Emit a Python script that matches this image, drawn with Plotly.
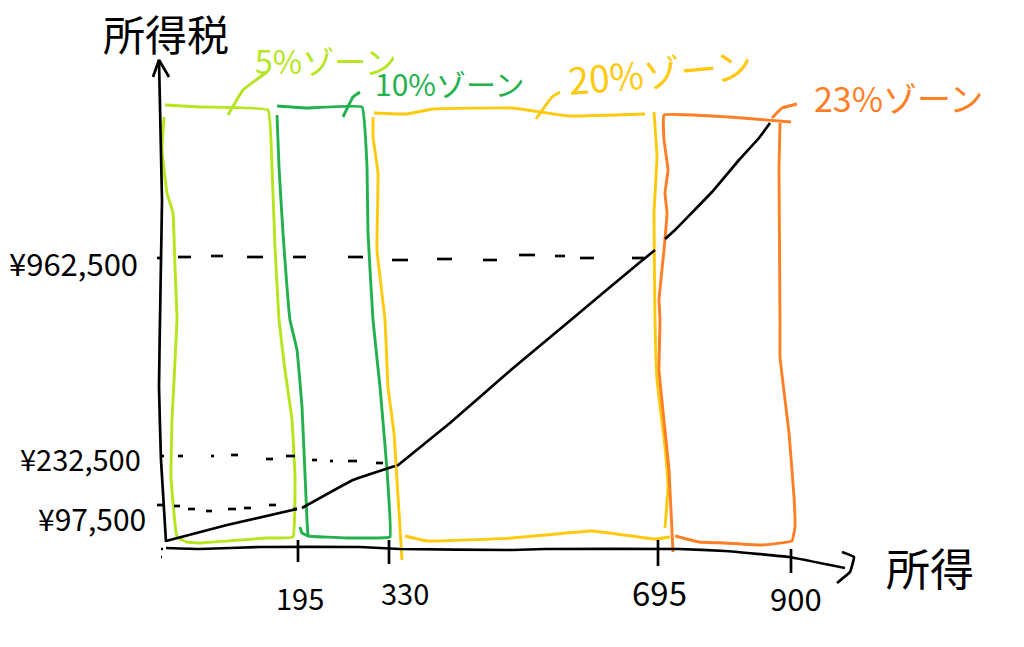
import plotly.graph_objects as go

BLACK = "#000000"
LIME = "#B5E61D"
GREEN = "#22B14C"
YELLOW = "#FFC90E"
ORANGE = "#FF7F27"
FONT = "Noto Sans CJK JP"

# Hand-drawn strokes (horizontal reading, vertical reading)
y_axis_x = [159, 162, 161, 160, 159, 161, 166]
y_axis_y = [60, 200, 260, 320, 387, 460, 542]
y_head_x = [153, 159, 169]
y_head_y = [77, 60, 77]
x_axis_x = [166, 200, 260, 360, 400, 512, 545, 679, 725, 789, 845]
x_axis_y = [548, 549, 547, 547, 549, 550, 549, 549, 551, 557, 568]
x_head_x = [842, 854, 850, 837]
x_head_y = [552, 557, 572, 583]

tax_1_x = [166, 227, 297]
tax_1_y = [541, 525, 509]
tax_2_x = [302, 353, 395]
tax_2_y = [508, 480, 466]
tax_3_x = [397, 450, 512, 572, 639, 655]
tax_3_y = [466, 423, 369, 319, 263, 250]
tax_4_x = [665, 675, 712, 739, 759, 770]
tax_4_y = [239, 230, 192, 160, 138, 123]

lime_x = [165, 200, 268, 272, 275, 279, 285, 292, 295, 293, 267, 200, 187, 177, 171, 172, 177, 175, 173, 167, 162, 164]
lime_y = [105, 107, 110, 167, 247, 320, 370, 420, 477, 537, 538, 543, 542, 537, 477, 420, 320, 267, 213, 193, 150, 117]
lime_lead_x = [228, 243, 267]
lime_lead_y = [115, 90, 72]

green_a_x = [277, 307, 362, 367, 368, 373, 380, 387, 390, 377, 347, 308, 302, 300]
green_a_y = [106, 108, 107, 167, 233, 320, 387, 470, 537, 538, 538, 536, 533, 527]
green_b_x = [308, 307, 302, 297, 290, 283, 279, 277]
green_b_y = [537, 520, 407, 350, 320, 233, 167, 115]
green_lead_x = [343, 353, 360]
green_lead_y = [117, 97, 92]

yellow_top_x = [374, 407, 433, 512, 569, 645]
yellow_top_y = [113, 114, 109, 108, 116, 114]
yellow_left_x = [373, 373, 378, 377, 385, 388, 394, 397, 402]
yellow_left_y = [117, 137, 173, 250, 320, 387, 433, 480, 560]
yellow_bot_x = [405, 427, 512, 592, 655, 670]
yellow_bot_y = [536, 541, 538, 531, 539, 537]
yellow_right_x = [654, 657, 654, 655, 657, 665, 668, 665]
yellow_right_y = [112, 157, 213, 320, 380, 447, 487, 528]
yellow_lead_x = [536, 552, 560]
yellow_lead_y = [119, 97, 92]

orange_a_x = [791, 729, 664, 664, 668, 665, 667, 664, 659, 660, 659, 669, 673]
orange_a_y = [122, 117, 115, 140, 170, 193, 213, 250, 300, 320, 370, 470, 552]
orange_b_x = [780, 779, 780, 780, 789, 794, 795, 792, 762, 725, 699, 675]
orange_b_y = [123, 167, 320, 357, 433, 497, 527, 541, 545, 543, 542, 536]
orange_lead_x = [772, 782, 797]
orange_lead_y = [118, 108, 104]

tick_x = [298, 389, 658, 791]
tick_top = [540, 540, 540, 549]
tick_bottom = [562, 564, 566, 573]
ytick_y = [258, 456, 505, 549, 557]
ytick_left = [157, 160, 157, 161, 161]
ytick_right = [160, 164, 163, 163, 162]

dash_962_start = [178, 211, 247, 293, 348, 392, 437, 483, 519, 555, 580, 632]
dash_962_end = [191, 223, 263, 306, 363, 408, 452, 497, 535, 565, 594, 644]
dash_962_y = [257, 256, 257, 257, 257, 260, 259, 260, 255, 256, 258, 258]
dash_232_start = [178, 211, 231, 266, 286, 312, 330, 348, 376]
dash_232_end = [183, 214, 238, 273, 295, 317, 333, 357, 383]
dash_232_y = [456, 456, 455, 459, 456, 460, 461, 461, 463]
dash_97_start = [174, 188, 206, 228, 244, 269, 293]
dash_97_end = [180, 195, 212, 236, 251, 276, 297]
dash_97_y = [506, 509, 511, 509, 508, 505, 509]

# Text
axis_titles = ["所得税", "所得"]
zone_labels = ["5%ゾーン", "10%ゾーン", "20%ゾーン", "23%ゾーン"]
y_tick_labels = ["¥962,500", "¥232,500", "¥97,500"]
x_tick_labels = ["195", "330", "695", "900"]

fig = go.Figure()


def stroke(x, y, color, width=2.9):
    fig.add_trace(go.Scatter(x=x, y=y, mode="lines", hoverinfo="skip", showlegend=False,
                             line=dict(color=color, width=width, shape="spline", smoothing=0.25)))


def straight(x, y, color=BLACK, width=2.7):
    fig.add_trace(go.Scatter(x=x, y=y, mode="lines", hoverinfo="skip", showlegend=False,
                             line=dict(color=color, width=width)))


def segments(starts, ends, ys):
    xs, yy = [], []
    for a, b, v in zip(starts, ends, ys):
        xs += [a, b, None]
        yy += [v, v, None]
    straight(xs, yy)


for x, y in [(lime_x, lime_y), (lime_lead_x, lime_lead_y)]:
    stroke(x, y, LIME)
for x, y in [(green_a_x, green_a_y), (green_b_x, green_b_y), (green_lead_x, green_lead_y)]:
    stroke(x, y, GREEN)
for x, y in [(yellow_top_x, yellow_top_y), (yellow_left_x, yellow_left_y), (yellow_bot_x, yellow_bot_y),
             (yellow_right_x, yellow_right_y), (yellow_lead_x, yellow_lead_y)]:
    stroke(x, y, YELLOW)
for x, y in [(orange_a_x, orange_a_y), (orange_b_x, orange_b_y), (orange_lead_x, orange_lead_y)]:
    stroke(x, y, ORANGE)

for x, y in [(y_axis_x, y_axis_y), (x_axis_x, x_axis_y), (tax_1_x, tax_1_y), (tax_2_x, tax_2_y),
             (tax_3_x, tax_3_y), (tax_4_x, tax_4_y)]:
    stroke(x, y, BLACK, 2.7)
straight(y_head_x, y_head_y)
stroke(x_head_x, x_head_y, BLACK, 2.7)

segments(dash_962_start, dash_962_end, dash_962_y)
segments(dash_232_start, dash_232_end, dash_232_y)
segments(dash_97_start, dash_97_end, dash_97_y)

tx, ty = [], []
for x, a, b in zip(tick_x, tick_top, tick_bottom):
    tx += [x, x, None]
    ty += [a, b, None]
straight(tx, ty)
segments(ytick_left, ytick_right, ytick_y)

label_specs = [
    (axis_titles[0], 166, 32, 42, BLACK, 0),
    (axis_titles[1], 930, 567, 44, BLACK, 0),
    (zone_labels[0], 326, 60, 32, LIME, 0),
    (zone_labels[1], 449, 83, 30, GREEN, 0),
    (zone_labels[2], 660, 71, 37, YELLOW, -5),
    (zone_labels[3], 898, 97, 34, ORANGE, 0),
    (y_tick_labels[0], 73, 262, 31, BLACK, 0),
    (y_tick_labels[1], 80, 458, 29, BLACK, 0),
    (y_tick_labels[2], 92, 518, 30, BLACK, 0),
    (x_tick_labels[0], 300, 597, 29, BLACK, 0),
    (x_tick_labels[1], 405, 592, 29, BLACK, 0),
    (x_tick_labels[2], 659, 592, 33, BLACK, 0),
    (x_tick_labels[3], 796, 597, 31, BLACK, 0),
]
for text, x, y, size, color, angle in label_specs:
    fig.add_annotation(x=x, y=y, text=text, showarrow=False, textangle=angle,
                       font=dict(family=FONT, size=size, color=color),
                       xanchor="center", yanchor="middle")

fig.update_layout(
    width=1024, height=647, margin=dict(l=0, r=0, t=0, b=0),
    paper_bgcolor="white", plot_bgcolor="white", showlegend=False,
    xaxis=dict(range=[0, 1024], visible=False, fixedrange=True),
    yaxis=dict(range=[647, 0], visible=False, fixedrange=True),
)
fig.write_html("out.html", config={"displayModeBar": False},
               post_script="document.body.style.margin='0';")
